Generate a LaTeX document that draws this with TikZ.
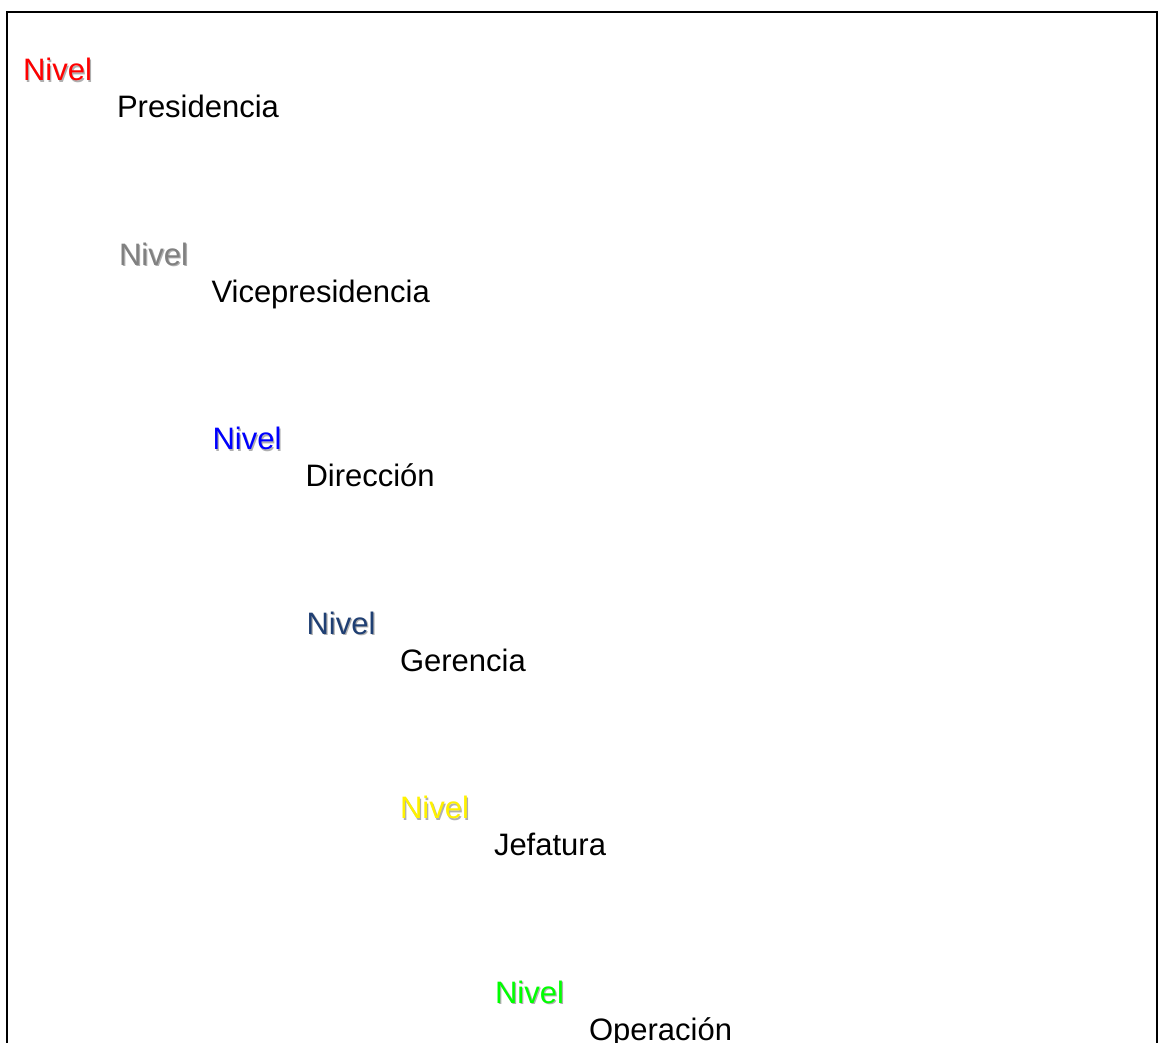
\documentclass[tikz,border=0pt]{standalone}
\usepackage{fontspec}
\setmainfont{Liberation Sans}
\definecolor{navy}{RGB}{31,63,115}
\definecolor{shadowgray}{RGB}{175,175,175}
\begin{document}
\begin{tikzpicture}[x=1pt,y=1pt,
  lbl/.style={anchor=base west,inner sep=0pt,outer sep=0pt,font=\fontsize{31}{37}\selectfont},
  niv/.style={lbl},
  shd/.style={lbl,text=shadowgray},
  frame/.style={draw=black,line width=2pt}]
\useasboundingbox (0,0) rectangle (1158,1043);
\draw[frame] (7,-5) -- (7,1031) -- (1157,1031) -- (1157,-5);
% level 1
\node[shd] (s1) at (24.3,960.7) {Nivel};
\node[niv,text=red] (n1) at (23,962) {Nivel};
\node[lbl] (t1) at (117,925) {Presidencia};
% level 2
\node[shd] (s2) at (120.3,776.2) {Nivel};
\node[niv,text=gray] (n2) at (119,777.5) {Nivel};
\node[lbl] (t2) at (211.5,740.5) {Vicepresidencia};
% level 3
\node[shd] (s3) at (213.8,591.7) {Nivel};
\node[niv,text=blue] (n3) at (212.5,593) {Nivel};
\node[lbl] (t3) at (305.5,556) {Dirección};
% level 4
\node[shd] (s4) at (307.8,407.2) {Nivel};
\node[niv,text=navy] (n4) at (306.5,408.5) {Nivel};
\node[lbl] (t4) at (400,371.5) {Gerencia};
% level 5
\node[shd] (s5) at (401.3,222.7) {Nivel};
\node[niv,text=yellow] (n5) at (400,224) {Nivel};
\node[lbl] (t5) at (494,187) {Jefatura};
% level 6
\node[shd] (s6) at (496.3,38.2) {Nivel};
\node[niv,text=green] (n6) at (495,39.5) {Nivel};
\node[lbl] (t6) at (589,2.5) {Operación};
\end{tikzpicture}
\end{document}
